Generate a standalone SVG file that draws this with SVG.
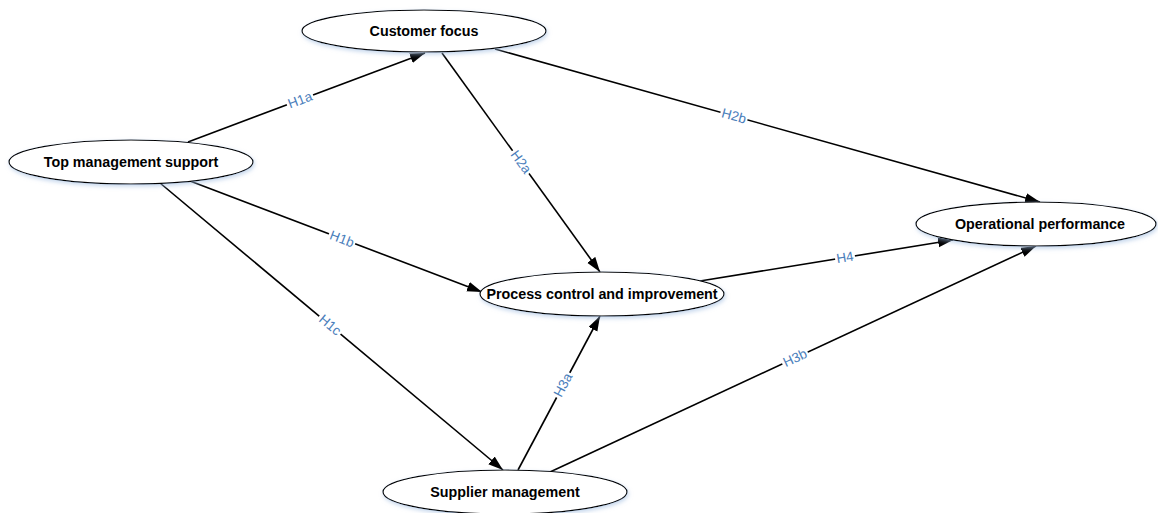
<svg xmlns="http://www.w3.org/2000/svg" width="1158" height="513" viewBox="0 0 1158 513">
<style>
.node ellipse{fill:#ffffff;stroke:#000000;stroke-width:1.2;filter:url(#sh)}
.node text{font-family:"Liberation Sans",Arial,sans-serif;font-size:14.3px;font-weight:bold;fill:#000000;text-anchor:middle;dominant-baseline:central}
.edge line{stroke:#000000;stroke-width:1.6;marker-end:url(#arr)}
.lbl rect{fill:#ffffff}
.lbl text{font-family:"Liberation Sans",Arial,sans-serif;font-size:13.5px;fill:#4a7ebb;text-anchor:middle;dominant-baseline:central}
</style>
<defs>
<marker id="arr" markerUnits="userSpaceOnUse" markerWidth="16" markerHeight="12" refX="15" refY="5" orient="auto">
<path d="M0,0 L15,5 L0,10 Z" fill="#000000"/>
</marker>
<filter id="sh" x="-10%" y="-30%" width="120%" height="170%">
<feDropShadow dx="1" dy="2" stdDeviation="2" flood-color="#9dbbe0" flood-opacity="0.6"/>
</filter>
</defs>
<rect x="0" y="0" width="1158" height="513" fill="#ffffff"/>
<g id="connectors" class="edge">
<line x1="188" y1="142" x2="425" y2="53"/>
<line x1="495" y1="49" x2="1040" y2="202"/>
<line x1="442" y1="53" x2="600" y2="272"/>
<line x1="190" y1="181" x2="482" y2="292"/>
<line x1="160" y1="183" x2="503" y2="470"/>
<line x1="700" y1="281" x2="953" y2="240"/>
<line x1="518" y1="470" x2="600" y2="316"/>
<line x1="550" y1="472" x2="1036" y2="246"/>
</g>
<g id="labels" class="lbl">
<g transform="translate(300,100) rotate(-20.6)"><rect x="-14" y="-7" width="28" height="14"/><text>H1a</text></g>
<g transform="translate(734,116) rotate(15.7)"><rect x="-14" y="-7" width="28" height="14"/><text>H2b</text></g>
<g transform="translate(521,162) rotate(54.2)"><rect x="-14" y="-7" width="28" height="14"/><text>H2a</text></g>
<g transform="translate(342,239) rotate(20.8)"><rect x="-14" y="-7" width="28" height="14"/><text>H1b</text></g>
<g transform="translate(330,325) rotate(39.9)"><rect x="-14" y="-7" width="28" height="14"/><text>H1c</text></g>
<g transform="translate(845,257.5) rotate(-9.2)"><rect x="-10" y="-7" width="20" height="14"/><text>H4</text></g>
<g transform="translate(563,385) rotate(-62)"><rect x="-14" y="-7" width="28" height="14"/><text>H3a</text></g>
<g transform="translate(795,358) rotate(-24.9)"><rect x="-14" y="-7" width="28" height="14"/><text>H3b</text></g>
</g>
<g id="customer-focus" class="node"><ellipse cx="424" cy="31" rx="122" ry="21"/><text x="424" y="31">Customer focus</text></g>
<g id="top-management-support" class="node"><ellipse cx="131" cy="162" rx="122" ry="22"/><text x="131" y="162">Top management support</text></g>
<g id="process-control" class="node"><ellipse cx="602" cy="294" rx="122" ry="22"/><text x="602" y="294">Process control and improvement</text></g>
<g id="operational-performance" class="node"><ellipse cx="1036" cy="224" rx="120" ry="22"/><text x="1040" y="224">Operational performance</text></g>
<g id="supplier-management" class="node"><ellipse cx="505" cy="492" rx="122" ry="22"/><text x="505" y="492">Supplier management</text></g>
</svg>
